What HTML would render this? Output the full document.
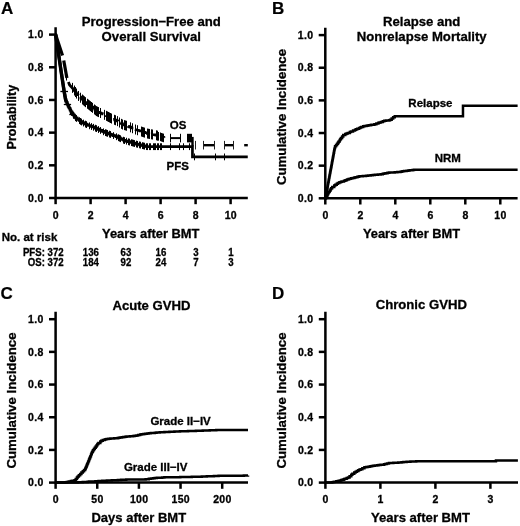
<!DOCTYPE html>
<html><head><meta charset="utf-8"><title>Figure</title>
<style>html,body{margin:0;padding:0;background:#fff}svg{display:block;will-change:transform}text{font-family:"Liberation Sans",sans-serif;font-weight:bold;fill:#000;stroke:#000;stroke-width:0.3px}.tk{font-size:10.2px;letter-spacing:0.3px}.ax{font-size:13.25px}.ti{font-size:13.15px}.pl{font-size:17px;stroke-width:0.2px}.lb{font-size:11.5px}.rk{font-size:10px}</style>
</head><body>
<svg width="520" height="526" viewBox="0 0 520 526">
<rect width="520" height="526" fill="#fff"/>
<path d="M55.60 27.20 V198.00 H247.80" fill="none" stroke="#000" stroke-width="2.5" stroke-linecap="butt" stroke-linejoin="miter"/>
<path d="M49.00 198.00 H55.60" stroke="#000" stroke-width="2.5"/>
<text transform="translate(43.60,201.75) scale(1.03,1)" text-anchor="end" class="tk">0.0</text>
<path d="M49.00 165.32 H55.60" stroke="#000" stroke-width="2.5"/>
<text transform="translate(43.60,169.07) scale(1.03,1)" text-anchor="end" class="tk">0.2</text>
<path d="M49.00 132.64 H55.60" stroke="#000" stroke-width="2.5"/>
<text transform="translate(43.60,136.39) scale(1.03,1)" text-anchor="end" class="tk">0.4</text>
<path d="M49.00 99.96 H55.60" stroke="#000" stroke-width="2.5"/>
<text transform="translate(43.60,103.71) scale(1.03,1)" text-anchor="end" class="tk">0.6</text>
<path d="M49.00 67.28 H55.60" stroke="#000" stroke-width="2.5"/>
<text transform="translate(43.60,71.03) scale(1.03,1)" text-anchor="end" class="tk">0.8</text>
<path d="M49.00 34.60 H55.60" stroke="#000" stroke-width="2.5"/>
<text transform="translate(43.60,38.35) scale(1.03,1)" text-anchor="end" class="tk">1.0</text>
<path d="M55.60 198.00 V204.20" stroke="#000" stroke-width="2.5"/>
<text transform="translate(55.80,218.60) scale(1.03,1)" text-anchor="middle" class="tk">0</text>
<path d="M90.60 198.00 V204.20" stroke="#000" stroke-width="2.5"/>
<text transform="translate(90.80,218.60) scale(1.03,1)" text-anchor="middle" class="tk">2</text>
<path d="M125.60 198.00 V204.20" stroke="#000" stroke-width="2.5"/>
<text transform="translate(125.80,218.60) scale(1.03,1)" text-anchor="middle" class="tk">4</text>
<path d="M160.60 198.00 V204.20" stroke="#000" stroke-width="2.5"/>
<text transform="translate(160.80,218.60) scale(1.03,1)" text-anchor="middle" class="tk">6</text>
<path d="M195.60 198.00 V204.20" stroke="#000" stroke-width="2.5"/>
<text transform="translate(195.80,218.60) scale(1.03,1)" text-anchor="middle" class="tk">8</text>
<path d="M230.60 198.00 V204.20" stroke="#000" stroke-width="2.5"/>
<text transform="translate(230.80,218.60) scale(1.03,1)" text-anchor="middle" class="tk">10</text>
<text x="1.0" y="13.8" class="pl">A</text>
<text x="151.3" y="25.6" text-anchor="middle" class="ti">Progression−Free and</text>
<text x="151.3" y="40.8" text-anchor="middle" class="ti">Overall Survival</text>
<text transform="translate(16.3,117.1) rotate(-90)" text-anchor="middle" class="ax" style="font-size:12.5px">Probability</text>
<text x="150.75" y="237.6" text-anchor="middle" class="ax" style="font-size:12.9px">Years after BMT</text>
<text x="1.7" y="241.1" class="rk" style="font-size:11.5px">No. at risk</text>
<text transform="translate(63.6,256.4) scale(0.965,1)" text-anchor="end" class="rk">PFS: 372</text>
<text transform="translate(63.6,265.5) scale(0.965,1)" text-anchor="end" class="rk">OS: 372</text>
<text transform="translate(90.9,256.4) scale(0.965,1)" text-anchor="middle" class="rk">136</text>
<text transform="translate(90.9,265.5) scale(0.965,1)" text-anchor="middle" class="rk">184</text>
<text transform="translate(125.9,256.4) scale(0.965,1)" text-anchor="middle" class="rk">63</text>
<text transform="translate(125.9,265.5) scale(0.965,1)" text-anchor="middle" class="rk">92</text>
<text transform="translate(160.9,256.4) scale(0.965,1)" text-anchor="middle" class="rk">16</text>
<text transform="translate(160.9,265.5) scale(0.965,1)" text-anchor="middle" class="rk">24</text>
<text transform="translate(195.9,256.4) scale(0.965,1)" text-anchor="middle" class="rk">3</text>
<text transform="translate(195.9,265.5) scale(0.965,1)" text-anchor="middle" class="rk">7</text>
<text transform="translate(230.9,256.4) scale(0.965,1)" text-anchor="middle" class="rk">1</text>
<text transform="translate(230.9,265.5) scale(0.965,1)" text-anchor="middle" class="rk">3</text>
<path d="M55.60 34.60 H55.75 V35.60 H55.91 V36.69 H56.12 V38.08 H56.27 V39.10 H56.43 V40.14 H56.59 V41.25 H56.79 V42.55 H56.95 V43.60 H57.12 V44.75 H57.31 V46.03 H57.48 V47.20 H57.70 V48.67 H57.88 V49.83 H58.07 V51.13 H58.25 V52.33 H58.42 V53.43 H58.63 V54.87 H58.84 V56.30 H59.02 V57.47 H59.19 V58.60 H59.38 V59.86 H59.54 V60.92 H59.69 V61.98 H59.86 V63.11 H60.06 V64.41 H60.26 V65.79 H60.42 V66.87 H60.58 V67.88 H60.72 V68.87 H60.92 V70.20 H61.08 V71.25 H61.25 V72.41 H61.41 V73.45 H61.58 V74.62 H61.73 V75.63 H61.95 V77.05 H62.16 V78.51 H62.38 V79.96 H62.58 V81.28 H62.76 V82.50 H62.98 V83.98 H63.19 V85.33 H63.40 V86.77 H63.57 V87.91 H63.76 V89.17 H64.00 V90.77 H64.20 V92.07 H64.43 V93.39 H64.64 V94.58 H64.84 V95.68 H65.10 V97.13 H65.30 V98.24 H65.51 V99.40 H65.93 V100.99 H66.53 V102.37 H67.19 V103.91 H67.66 V105.00 H68.14 V106.07 H68.67 V107.10 H69.26 V108.26 H70.06 V109.84 H70.68 V111.06 H71.28 V112.13 H72.14 V113.38 H72.98 V114.58 H73.93 V115.96 H74.75 V117.14 H75.53 V117.78 H77.01 V118.86 H77.90 V119.52 H79.16 V120.44 H80.31 V121.28 H81.21 V121.91 H82.64 V122.64 H83.48 V123.07 H84.82 V123.75 H85.65 V124.17 H86.78 V124.74 H87.70 V125.14 H88.68 V125.50 H90.33 V126.10 H91.82 V126.64 H92.83 V127.01 H94.40 V127.70 H95.33 V128.11 H96.42 V128.61 H97.96 V129.31 H99.30 V129.91 H100.12 V130.28 H101.79 V131.04 H102.71 V131.46 H103.68 V131.90 H105.14 V132.51 H106.18 V132.89 H107.18 V133.26 H107.97 V133.55 H108.78 V133.85 H110.06 V134.32 H111.01 V134.67 H112.31 V135.15 H113.39 V135.54 H114.54 V135.97 H116.18 V136.58 H117.37 V137.17 H118.64 V137.80 H120.19 V138.58 H121.08 V139.02 H121.95 V139.46 H123.54 V140.25 H125.05 V140.75 H126.01 V141.04 H126.91 V141.30 H128.34 V141.72 H129.96 V142.20 H130.87 V142.47 H132.50 V142.95 H134.07 V143.41 H135.37 V143.79 H136.50 V144.08 H137.32 V144.29 H138.07 V144.49 H139.72 V144.91 H140.67 V145.16 H142.06 V145.52 H143.03 V145.77 H144.54 V146.16 H145.83 V146.49 H146.83 V146.69 H147.72 H149.13 H149.92 H150.86 H152.12 H153.65 H154.96 H155.95 H157.55 H158.47 H159.21 H160.18 H161.33 H162.11 H163.00 H164.07 H165.34 H166.19 H167.26 H168.83 H170.49 H171.84 H173.23 H174.51 H175.36 H176.12 H176.85 H178.45 H179.84 H181.48 H182.23 H183.56 H184.74 H186.16 H187.19 H188.87 H189.66 H190.90 H192.33 H192.45 V156.90 H193.88 H195.28 H196.76 H198.36 H199.41 H200.79 H202.38 H203.93 H205.05 H206.53 H208.08 H209.35 H210.67 H211.76 H213.04 H214.34 H215.14 H216.47 H218.15 H219.71 H221.13 H222.22 H223.65 H224.93 H226.07 H227.59 H228.39 H229.83 H230.58 H231.88 H233.06 H234.00 H235.39 H236.59 H237.90 H239.50 H240.47 H241.20 H242.21 H243.58 H244.50 H245.38 H246.97 H247.75" fill="none" stroke="#000" stroke-width="2.7" stroke-linejoin="miter" />
<path d="M55.60 34.60 L56.17 36.34 L56.75 38.09 L57.32 39.83 L57.90 41.57 L58.47 43.31 L59.05 45.06 L59.62 46.80 L60.20 48.54 L60.77 50.29 L61.35 52.03 L61.92 53.77 L62.50 55.52" fill="none" stroke="#000" stroke-width="3.2" stroke-linejoin="round" />
<path d="M63.76 60.50 L64.02 61.96 L64.28 63.43 L64.54 64.89 L64.81 66.35 L65.07 67.82 L65.33 69.28 L65.59 70.75 L65.86 72.21 L66.12 73.67 L66.38 75.14 L66.64 76.60 L66.91 78.06" fill="none" stroke="#000" stroke-width="3.2" stroke-linejoin="round" />
<path d="M68.38 82.07 L68.91 83.33 L69.45 84.59 L69.99 85.37 L70.53 85.97 L71.07 86.58 L71.61 87.18 L72.15 87.79 L72.69 88.39 L73.23 89.05 L73.77 89.86 L74.31 90.67 L74.85 91.48" fill="none" stroke="#000" stroke-width="2.8" stroke-linejoin="round" />
<path d="M55.60 34.60 L56.50 40.65 L57.41 46.69 L58.31 52.74 L59.22 58.79 L60.12 64.84 L61.02 70.88 L61.93 76.93 L62.83 82.98 L63.74 89.03 L64.64 94.56 L65.55 99.60 L66.45 102.19" fill="none" stroke="#000" stroke-width="3.4" stroke-linejoin="round" />
<path d="M74.85 91.48 H75.71 V92.77 H76.42 V93.81 H77.19 V94.83 H78.21 V95.94 H79.35 V96.95 H80.77 V98.22 H81.89 V99.22 H83.09 V100.29 H84.26 V101.34 H85.62 V102.49 H87.22 V103.78 H88.50 V104.81 H89.56 V105.67 H91.06 V106.88 H92.96 V108.42 H94.88 V110.00 H96.64 V111.27 H98.68 V112.29 H99.91 V112.85 H101.01 V113.35 H102.45 V114.01 H103.68 V114.57 H104.84 V115.14 H106.24 V115.87 H107.89 V116.76 H109.38 V117.56 H110.66 V118.25 H112.57 V119.14 H114.64 V119.98 H116.09 V120.57 H117.08 V121.06 H118.01 V121.67 H119.96 V123.01 H120.91 V123.65 H122.66 V124.64 H124.25 V125.14 H125.52 V125.53 H127.37 V126.15 H128.29 V126.51 H129.35 V126.97 H130.80 V127.60 H131.73 V128.01 H133.62 V128.83 H134.81 V129.34 H135.88 V129.75 H136.83 V130.09 H138.49 V130.65 H139.92 V131.13 H141.58 V131.69 H143.27 V132.26 H145.14 V132.89 H147.19 V133.53 H148.91 V133.88 H150.05 V134.10 H151.52 V134.38 H152.63 V134.60 H153.54 V134.77 H155.01 V135.05 H156.77 V135.49 H157.88 V135.83 H159.11 V136.22 H160.42 V136.64 H162.16 V137.19 H163.69 V137.67 H164.10 V137.80" fill="none" stroke="#000" stroke-width="2.4" stroke-linejoin="miter" stroke-dasharray="7 4"/>
<path d="M170.80 138.10H180.40" stroke="#000" stroke-width="2.0"/>
<path d="M187.50 138.10H192.50" stroke="#000" stroke-width="2.0"/>
<path d="M203.80 145.19H214.70" stroke="#000" stroke-width="2.4"/>
<path d="M224.80 145.19H233.40" stroke="#000" stroke-width="2.4"/>
<path d="M244.20 145.19H247.80" stroke="#000" stroke-width="2.4"/>
<path d="M192.5 136.90V146.39" stroke="#000" stroke-width="2.4"/>
<path d="M66.50 70.53V80.53 M72.50 82.87V92.87 M74.50 85.54V95.54 M75.50 87.04V97.04 M76.50 88.55V98.55 M78.50 90.95V100.95 M80.50 92.73V102.73 M82.50 94.52V104.52 M83.50 95.41V105.41 M84.50 96.31V106.31 M85.50 97.17V107.17 M87.50 98.79V108.79 M88.50 99.59V109.59 M89.50 100.40V110.40 M90.50 101.20V111.20 M91.50 102.01V112.01 M92.50 102.82V112.82 M94.50 104.46V114.46 M95.50 105.29V115.29 M96.50 106.11V116.11 M97.50 106.62V116.62 M98.50 107.08V117.08 M100.50 107.99V117.99 M104.50 109.82V119.82 M106.50 110.87V120.87 M107.50 111.40V121.40 M108.50 111.94V121.94 M109.50 112.48V122.48 M110.50 113.01V123.01 M111.50 113.55V123.55 M114.50 114.81V124.81 M115.50 115.22V125.22 M117.50 116.13V126.13 M119.50 117.50V127.50 M121.50 118.87V128.87 M122.50 119.51V129.51 M124.50 120.13V130.13 M125.50 120.44V130.44 M126.50 120.75V130.75 M130.50 122.35V132.35 M132.50 123.22V133.22 M135.50 124.52V134.52 M137.50 125.22V135.22 M141.50 126.57V136.57 M142.50 126.91V136.91 M143.50 127.25V137.25 M144.50 127.58V137.58 M147.50 128.56V138.56 M148.50 128.75V138.75 M149.50 128.94V138.94 M151.50 129.33V139.33 M152.50 129.52V139.52 M156.50 130.31V140.31 M157.50 130.63V140.63" stroke="#000" stroke-width="1.0" fill="none"/>
<path d="M157.50 131.56V140.16 M158.50 132.03V140.63 M160.50 132.51V141.11 M161.50 132.98V141.58 M162.50 133.30V141.90 M163.50 133.61V142.21 M170.50 133.80V142.40 M180.50 133.80V142.40 M187.50 133.80V142.40 M188.50 133.80V142.40 M189.50 133.80V142.40 M190.50 133.80V142.40 M191.50 133.80V142.40 M192.50 140.99V149.59" stroke="#000" stroke-width="1.0" fill="none"/>
<path d="M195.50 140.89V149.49 M203.50 140.89V149.49 M214.50 140.89V149.49 M224.50 140.89V149.49 M233.50 140.89V149.49" stroke="#222" stroke-width="1.0" fill="none"/>
<path d="M60.40 91.50H68.00" stroke="#000" stroke-width="1.3"/>
<path d="M63.80 104.50H71.10" stroke="#000" stroke-width="1.3"/>
<path d="M69.30 114.50H73.60" stroke="#000" stroke-width="1.3"/>
<path d="M70.50 107.25V114.05 M71.50 109.02V115.82 M73.50 111.90V118.70 M75.50 114.34V121.14 M76.50 115.07V121.87 M79.50 117.27V124.07 M80.50 118.00V124.80 M81.50 118.65V125.45 M83.50 119.66V126.46 M85.50 120.68V127.48 M86.50 121.19V127.99 M89.50 122.39V129.19 M91.50 123.11V129.91 M93.50 123.88V130.68 M95.50 124.78V131.58 M96.50 125.23V132.03 M98.50 126.14V132.94 M100.50 127.05V133.85 M103.50 128.40V135.20 M105.50 129.24V136.04 M106.50 129.60V136.40 M107.50 129.97V136.77 M109.50 130.71V137.51 M110.50 131.07V137.87 M113.50 132.18V138.98 M116.50 133.32V140.12 M118.50 134.32V141.12 M119.50 134.82V141.62 M120.50 135.32V142.12 M123.50 136.81V143.61 M124.50 137.19V143.99 M126.50 137.77V144.57 M128.50 138.36V145.16 M129.50 138.66V145.46 M131.50 139.25V146.05 M132.50 139.54V146.34 M133.50 139.83V146.63 M134.50 140.13V146.93 M136.50 140.68V147.48 M137.50 140.94V147.74 M139.50 141.45V148.25 M140.50 141.71V148.51 M142.50 142.23V149.03 M143.50 142.49V149.29 M144.50 142.74V149.54 M146.50 143.26V150.06 M147.50 143.29V150.09 M149.50 143.29V150.09 M150.50 143.29V150.09" stroke="#000" stroke-width="1.0" fill="none"/>
<path d="M153.50 143.29V150.09 M154.50 143.29V150.09 M155.50 143.29V150.09 M157.50 143.29V150.09 M158.50 143.29V150.09 M160.50 143.29V150.09 M161.50 143.29V150.09 M170.50 143.29V150.09 M179.50 143.29V150.09 M183.50 143.29V150.09 M189.50 143.29V150.09" stroke="#000" stroke-width="1.0" fill="none"/>
<path d="M194.50 153.50V160.30 M215.50 153.50V160.30 M224.50 153.50V160.30" stroke="#000" stroke-width="1.0" fill="none"/>
<text x="178" y="129" text-anchor="middle" class="lb">OS</text>
<text x="177.7" y="169.9" text-anchor="middle" class="lb">PFS</text>
<path d="M325.30 27.70 V198.30 H517.60" fill="none" stroke="#000" stroke-width="2.5" stroke-linecap="butt" stroke-linejoin="miter"/>
<path d="M318.70 198.30 H325.30" stroke="#000" stroke-width="2.5"/>
<text transform="translate(313.30,202.05) scale(1.03,1)" text-anchor="end" class="tk">0.0</text>
<path d="M318.70 165.66 H325.30" stroke="#000" stroke-width="2.5"/>
<text transform="translate(313.30,169.41) scale(1.03,1)" text-anchor="end" class="tk">0.2</text>
<path d="M318.70 133.02 H325.30" stroke="#000" stroke-width="2.5"/>
<text transform="translate(313.30,136.77) scale(1.03,1)" text-anchor="end" class="tk">0.4</text>
<path d="M318.70 100.38 H325.30" stroke="#000" stroke-width="2.5"/>
<text transform="translate(313.30,104.13) scale(1.03,1)" text-anchor="end" class="tk">0.6</text>
<path d="M318.70 67.74 H325.30" stroke="#000" stroke-width="2.5"/>
<text transform="translate(313.30,71.49) scale(1.03,1)" text-anchor="end" class="tk">0.8</text>
<path d="M318.70 35.10 H325.30" stroke="#000" stroke-width="2.5"/>
<text transform="translate(313.30,38.85) scale(1.03,1)" text-anchor="end" class="tk">1.0</text>
<path d="M325.30 198.30 V204.50" stroke="#000" stroke-width="2.5"/>
<text transform="translate(325.50,218.90) scale(1.03,1)" text-anchor="middle" class="tk">0</text>
<path d="M360.30 198.30 V204.50" stroke="#000" stroke-width="2.5"/>
<text transform="translate(360.50,218.90) scale(1.03,1)" text-anchor="middle" class="tk">2</text>
<path d="M395.30 198.30 V204.50" stroke="#000" stroke-width="2.5"/>
<text transform="translate(395.50,218.90) scale(1.03,1)" text-anchor="middle" class="tk">4</text>
<path d="M430.30 198.30 V204.50" stroke="#000" stroke-width="2.5"/>
<text transform="translate(430.50,218.90) scale(1.03,1)" text-anchor="middle" class="tk">6</text>
<path d="M465.30 198.30 V204.50" stroke="#000" stroke-width="2.5"/>
<text transform="translate(465.50,218.90) scale(1.03,1)" text-anchor="middle" class="tk">8</text>
<path d="M500.30 198.30 V204.50" stroke="#000" stroke-width="2.5"/>
<text transform="translate(500.50,218.90) scale(1.03,1)" text-anchor="middle" class="tk">10</text>
<text x="271.9" y="13.8" class="pl">B</text>
<text x="421.7" y="25.6" text-anchor="middle" class="ti">Relapse and</text>
<text x="421.7" y="40.8" text-anchor="middle" class="ti">Nonrelapse Mortality</text>
<text transform="translate(286.2,117.0) rotate(-90)" text-anchor="middle" class="ax">Cumulative Incidence</text>
<text x="411.5" y="237.7" text-anchor="middle" class="ax" style="font-size:12.85px">Years after BMT</text>
<path d="M325.30 198.30 H325.54 V197.00 H325.75 V195.91 H325.94 V194.87 H326.16 V193.66 H326.37 V192.53 H326.57 V191.45 H326.76 V190.48 H327.02 V189.05 H327.28 V187.65 H327.55 V186.23 H327.74 V185.21 H327.96 V183.99 H328.15 V183.00 H328.39 V181.69 H328.65 V180.31 H328.84 V179.28 H329.11 V177.80 H329.36 V176.49 H329.57 V175.34 H329.83 V173.94 H330.06 V172.72 H330.30 V171.44 H330.50 V170.36 H330.74 V169.05 H331.00 V167.68 H331.22 V166.48 H331.50 V164.99 H331.78 V163.45 H332.00 V162.30 H332.22 V161.11 H332.45 V159.88 H332.67 V158.66 H332.87 V157.61 H333.13 V156.21 H333.38 V154.89 H333.58 V153.82 H333.76 V152.83 H334.05 V151.26 H334.23 V150.29 H334.43 V149.22 H334.67 V147.95 H335.08 V146.36 H336.07 V145.02 H337.07 V143.67 H337.99 V142.43 H338.69 V141.44 H339.67 V140.02 H340.36 V139.01 H341.07 V137.99 H342.14 V136.44 H343.27 V134.93 H345.25 V134.05 H346.53 V133.49 H347.81 V132.93 H349.81 V132.04 H350.97 V131.53 H353.07 V130.61 H355.04 V129.74 H356.10 V129.27 H357.29 V128.74 H359.06 V127.96 H360.27 V127.42 H361.29 V126.97 H363.18 V126.15 H364.59 V125.93 H366.44 V125.65 H367.49 V125.48 H368.87 V125.27 H370.59 V125.00 H371.52 V124.86 H372.66 V124.68 H374.38 V124.26 H376.37 V123.54 H378.43 V122.81 H379.47 V122.43 H380.98 V121.90 H382.79 V121.25 H384.29 V120.76 H386.01 V120.60 H387.14 V120.50 H388.12 V120.40 H389.15 V120.31 H390.10 V119.68 H391.66 V118.40 H393.18 V117.15 H394.76 V116.13 H395.84 H396.96 H398.10 H400.01 H402.10 H404.11 H405.12 H406.10 H408.14 H409.60 H411.41 H412.70 H414.17 H415.68 H417.10 H418.72 H419.64 H421.38 H423.29 H424.41 H425.85 H427.64 H429.03 H430.16 H431.26 H432.77 H433.69 H435.66 H437.53 H439.27 H441.21 H442.86 H444.25 H445.87 H447.37 H449.45 H451.32 H452.53 H454.52 H456.31 H458.15 H460.02 H461.41 H462.60 H462.85 H462.98 V105.77 H464.80 H466.62 H468.01 H469.78 H470.76 H472.07 H473.53 H474.45 H475.77 H477.44 H479.09 H480.27 H482.30 H484.00 H485.31 H487.00 H488.58 H490.12 H491.49 H493.59 H495.26 H497.00 H498.81 H500.89 H501.82 H503.46 H505.24 H506.45 H507.83 H508.79 H509.93 H511.28 H512.30 H513.50 H515.48 H517.04 H517.62" fill="none" stroke="#000" stroke-width="2.5" stroke-linejoin="miter" />
<path d="M325.30 198.30 H326.04 V196.92 H326.61 V195.85 H327.37 V194.45 H327.96 V193.33 H328.64 V192.07 H329.63 V190.54 H330.60 V189.11 H331.25 V188.14 H332.21 V187.05 H334.22 V185.59 H335.31 V184.80 H336.78 V183.74 H337.88 V182.94 H339.38 V182.32 H341.01 V181.73 H341.98 V181.38 H344.02 V180.64 H345.42 V180.13 H346.95 V179.57 H348.57 V179.00 H349.91 V178.67 H351.15 V178.36 H352.84 V177.94 H354.41 V177.55 H355.65 V177.24 H357.41 V176.80 H358.67 V176.49 H359.58 V176.37 H360.78 V176.26 H361.73 V176.17 H362.82 V176.07 H364.62 V175.90 H365.99 V175.77 H367.97 V175.59 H369.76 V175.41 H370.73 V175.31 H372.81 V175.08 H374.84 V174.86 H375.83 V174.75 H377.82 V174.54 H379.24 V174.38 H380.71 V174.15 H382.78 V173.75 H383.97 V173.52 H385.50 V173.22 H387.52 V172.83 H389.29 V172.62 H390.75 V172.52 H392.83 V172.39 H394.71 V172.27 H396.33 V172.17 H397.37 V172.10 H399.02 V171.96 H400.46 V171.70 H401.61 V171.50 H402.57 V171.33 H404.10 V171.07 H405.15 V170.88 H406.58 V170.63 H408.29 V170.43 H409.73 V170.28 H410.95 V170.15 H412.55 V169.98 H413.95 V169.84 H415.78 V169.74 H417.32 H419.42 H421.46 H423.24 H424.43 H425.46 H427.44 H429.28 H430.93 H432.26 H433.48 H435.21 H436.78 H438.39 H440.05 H441.86 H442.99 H444.18 H446.26 H448.26 H450.21 H451.16 H452.13 H453.36 H454.77 H456.42 H457.44 H458.99 H459.98 H460.98 H462.69 H464.25 H465.91 H467.26 H468.73 H469.88 H471.20 H472.99 H474.90 H475.89 H476.93 H478.80 H480.45 H482.27 H483.43 H484.84 H486.05 H487.92 H489.26 H490.95 H493.03 H494.32 H495.88 H497.68 H499.68 H501.10 H502.44 H503.45 H505.40 H506.40 H507.40 H508.98 H510.46 H512.18 H513.44 H515.27 H516.26 H517.42 H517.62" fill="none" stroke="#000" stroke-width="2.5" stroke-linejoin="miter" />
<text x="430.4" y="106.6" text-anchor="middle" class="lb">Relapse</text>
<text x="447.8" y="161.8" text-anchor="middle" class="lb">NRM</text>
<path d="M55.60 311.80 V482.60 H248.00" fill="none" stroke="#000" stroke-width="2.5" stroke-linecap="butt" stroke-linejoin="miter"/>
<path d="M49.00 482.60 H55.60" stroke="#000" stroke-width="2.5"/>
<text transform="translate(43.60,486.35) scale(1.03,1)" text-anchor="end" class="tk">0.0</text>
<path d="M49.00 449.92 H55.60" stroke="#000" stroke-width="2.5"/>
<text transform="translate(43.60,453.67) scale(1.03,1)" text-anchor="end" class="tk">0.2</text>
<path d="M49.00 417.24 H55.60" stroke="#000" stroke-width="2.5"/>
<text transform="translate(43.60,420.99) scale(1.03,1)" text-anchor="end" class="tk">0.4</text>
<path d="M49.00 384.56 H55.60" stroke="#000" stroke-width="2.5"/>
<text transform="translate(43.60,388.31) scale(1.03,1)" text-anchor="end" class="tk">0.6</text>
<path d="M49.00 351.88 H55.60" stroke="#000" stroke-width="2.5"/>
<text transform="translate(43.60,355.63) scale(1.03,1)" text-anchor="end" class="tk">0.8</text>
<path d="M49.00 319.20 H55.60" stroke="#000" stroke-width="2.5"/>
<text transform="translate(43.60,322.95) scale(1.03,1)" text-anchor="end" class="tk">1.0</text>
<path d="M55.60 482.60 V488.80" stroke="#000" stroke-width="2.5"/>
<text transform="translate(55.80,503.20) scale(1.03,1)" text-anchor="middle" class="tk">0</text>
<path d="M97.25 482.60 V488.80" stroke="#000" stroke-width="2.5"/>
<text transform="translate(97.45,503.20) scale(1.03,1)" text-anchor="middle" class="tk">50</text>
<path d="M138.90 482.60 V488.80" stroke="#000" stroke-width="2.5"/>
<text transform="translate(139.10,503.20) scale(1.03,1)" text-anchor="middle" class="tk">100</text>
<path d="M180.55 482.60 V488.80" stroke="#000" stroke-width="2.5"/>
<text transform="translate(180.75,503.20) scale(1.03,1)" text-anchor="middle" class="tk">150</text>
<path d="M222.20 482.60 V488.80" stroke="#000" stroke-width="2.5"/>
<text transform="translate(222.40,503.20) scale(1.03,1)" text-anchor="middle" class="tk">200</text>
<text x="0.4" y="298.8" class="pl">C</text>
<text x="151.5" y="309.5" text-anchor="middle" class="ti">Acute GVHD</text>
<text transform="translate(16.3,400.5) rotate(-90)" text-anchor="middle" class="ax">Cumulative Incidence</text>
<text x="138.8" y="521.5" text-anchor="middle" class="ax" style="font-size:13px">Days after BMT</text>
<path d="M55.60 482.60 H56.60 H57.86 H59.63 H61.37 H62.60 H63.68 H65.01 V482.37 H66.78 V481.97 H68.12 V481.66 H69.16 V481.42 H70.91 V481.01 H72.49 V480.64 H74.49 V480.17 H75.71 V478.88 H76.91 V477.52 H77.76 V476.55 H78.88 V475.28 H80.15 V473.88 H81.43 V472.60 H82.81 V471.23 H84.02 V470.02 H85.21 V468.79 H85.64 V467.77 H86.12 V466.63 H86.60 V465.48 H87.08 V464.34 H87.57 V463.17 H88.07 V462.00 H88.47 V461.01 H89.04 V459.60 H89.44 V458.59 H90.00 V457.20 H90.41 V456.17 H90.98 V454.75 H91.38 V453.75 H91.77 V452.77 H92.19 V451.72 H92.94 V450.25 H93.86 V448.98 H94.77 V447.72 H95.71 V446.43 H96.65 V445.13 H97.40 V444.10 H98.40 V443.00 H100.27 V441.54 H101.25 V440.77 H102.80 V439.95 H104.65 V439.53 H105.65 V439.30 H106.65 V439.07 H108.43 V438.66 H110.41 V438.53 H111.41 V438.48 H113.07 V438.38 H114.15 V438.32 H115.94 V438.21 H117.62 V438.02 H118.81 V437.80 H119.98 V437.59 H121.80 V437.25 H123.32 V436.97 H125.14 V436.64 H126.51 V436.51 H127.82 V436.43 H129.88 V436.29 H131.59 V436.18 H133.08 V436.08 H134.63 V435.86 H136.39 V435.45 H138.14 V435.03 H140.14 V434.56 H141.53 V434.24 H143.42 V433.93 H145.12 V433.74 H147.05 V433.52 H148.91 V433.31 H150.81 V433.09 H152.78 V432.89 H154.83 V432.67 H156.50 V432.55 H158.03 V432.46 H159.78 V432.37 H161.64 V432.27 H163.05 V432.19 H164.45 V432.11 H165.53 V432.05 H167.32 V431.95 H169.41 V431.84 H170.76 V431.76 H171.86 V431.70 H173.00 V431.64 H174.41 V431.56 H175.66 V431.50 H177.73 V431.42 H178.70 V431.39 H179.97 V431.35 H181.01 V431.32 H182.68 V431.27 H184.51 V431.21 H185.63 V431.18 H186.61 V431.15 H188.06 V431.10 H189.66 V431.06 H191.65 V431.00 H192.59 V430.97 H193.62 V430.94 H194.74 V430.90 H195.90 V430.87 H197.09 V430.83 H198.85 V430.77 H200.46 V430.71 H201.63 V430.66 H202.75 V430.62 H203.99 V430.57 H205.10 V430.53 H206.90 V430.45 H208.18 V430.40 H209.74 V430.34 H211.62 V430.27 H213.09 V430.21 H214.31 V430.16 H216.27 V430.09 H218.27 V430.01 H219.58 V429.99 H221.13 H223.18 H224.66 H225.83 H226.79 H228.82 H230.69 H232.05 H233.58 H235.10 H236.33 H238.42 H240.11 H241.29 H242.20 H243.67 H245.02 H246.87 H248.02" fill="none" stroke="#000" stroke-width="2.5" stroke-linejoin="miter" />
<path d="M55.60 482.60 H58.31 H60.13 H61.94 H64.08 H66.10 H69.34 H71.87 H74.65 V482.46 H78.13 V482.25 H80.17 V482.13 H82.74 V481.98 H84.54 V481.88 H87.58 V481.70 H89.08 V481.61 H92.22 V481.43 H95.42 V481.24 H98.56 V481.06 H100.23 V480.96 H102.26 V480.84 H105.20 V480.67 H106.89 V480.57 H109.35 V480.43 H111.79 V480.31 H115.20 V480.14 H117.87 V480.01 H121.09 V479.84 H123.20 V479.74 H126.27 V479.58 H128.61 V479.47 H131.94 V479.41 H133.62 H136.78 H138.69 H141.28 H143.83 H145.65 V479.29 H148.81 V478.86 H150.93 V478.57 H153.05 V478.28 H154.71 V478.06 H156.82 V477.86 H159.25 V477.70 H162.18 V477.51 H164.40 V477.36 H167.28 V477.28 H168.99 V477.26 H171.28 V477.25 H173.70 V477.23 H177.13 V477.19 H180.29 V477.12 H183.10 V477.06 H184.63 V477.02 H186.88 V476.97 H189.80 V476.90 H191.78 V476.86 H194.40 V476.80 H196.82 V476.75 H198.34 V476.70 H201.82 V476.55 H204.92 V476.42 H206.84 V476.34 H209.57 V476.22 H211.65 V476.13 H213.90 V476.03 H216.48 V475.92 H218.58 V475.83 H220.75 V475.80 H223.04 V475.78 H225.87 V475.76 H227.88 V475.74 H229.78 V475.73 H232.75 V475.70 H234.90 V475.68 H238.29 V475.66 H240.92 V475.63 H243.87 V475.61 H246.03 V475.59 H248.02 V475.57" fill="none" stroke="#000" stroke-width="2.5" stroke-linejoin="miter" />
<text x="180.6" y="424.7" text-anchor="middle" class="lb">Grade II−IV</text>
<text x="155.7" y="470.7" text-anchor="middle" class="lb">Grade III−IV</text>
<path d="M325.40 311.80 V482.60 H518.00" fill="none" stroke="#000" stroke-width="2.5" stroke-linecap="butt" stroke-linejoin="miter"/>
<path d="M318.80 482.60 H325.40" stroke="#000" stroke-width="2.5"/>
<text transform="translate(313.40,486.35) scale(1.03,1)" text-anchor="end" class="tk">0.0</text>
<path d="M318.80 449.92 H325.40" stroke="#000" stroke-width="2.5"/>
<text transform="translate(313.40,453.67) scale(1.03,1)" text-anchor="end" class="tk">0.2</text>
<path d="M318.80 417.24 H325.40" stroke="#000" stroke-width="2.5"/>
<text transform="translate(313.40,420.99) scale(1.03,1)" text-anchor="end" class="tk">0.4</text>
<path d="M318.80 384.56 H325.40" stroke="#000" stroke-width="2.5"/>
<text transform="translate(313.40,388.31) scale(1.03,1)" text-anchor="end" class="tk">0.6</text>
<path d="M318.80 351.88 H325.40" stroke="#000" stroke-width="2.5"/>
<text transform="translate(313.40,355.63) scale(1.03,1)" text-anchor="end" class="tk">0.8</text>
<path d="M318.80 319.20 H325.40" stroke="#000" stroke-width="2.5"/>
<text transform="translate(313.40,322.95) scale(1.03,1)" text-anchor="end" class="tk">1.0</text>
<path d="M325.40 482.60 V488.80" stroke="#000" stroke-width="2.5"/>
<text transform="translate(325.60,503.20) scale(1.03,1)" text-anchor="middle" class="tk">0</text>
<path d="M380.40 482.60 V488.80" stroke="#000" stroke-width="2.5"/>
<text transform="translate(380.60,503.20) scale(1.03,1)" text-anchor="middle" class="tk">1</text>
<path d="M435.40 482.60 V488.80" stroke="#000" stroke-width="2.5"/>
<text transform="translate(435.60,503.20) scale(1.03,1)" text-anchor="middle" class="tk">2</text>
<path d="M490.40 482.60 V488.80" stroke="#000" stroke-width="2.5"/>
<text transform="translate(490.60,503.20) scale(1.03,1)" text-anchor="middle" class="tk">3</text>
<text x="271.9" y="298.6" class="pl">D</text>
<text x="421.3" y="309.3" text-anchor="middle" class="ti">Chronic GVHD</text>
<text transform="translate(286.2,400.5) rotate(-90)" text-anchor="middle" class="ax">Cumulative Incidence</text>
<text x="420.5" y="521.5" text-anchor="middle" class="ax" style="font-size:13.1px">Years after BMT</text>
<path d="M325.40 482.60 H326.41 H327.48 H328.49 H330.21 V482.52 H331.96 V482.16 H333.07 V481.93 H334.45 V481.65 H336.36 V481.26 H337.97 V480.93 H338.98 V480.72 H340.15 V480.48 H341.24 V480.08 H342.29 V479.67 H343.68 V479.14 H344.66 V478.76 H346.67 V477.99 H348.08 V477.45 H349.59 V476.25 H351.27 V474.67 H352.36 V473.63 H354.25 V472.43 H355.61 V471.72 H356.91 V471.05 H358.30 V470.33 H359.22 V469.86 H360.60 V469.19 H362.34 V468.34 H364.42 V467.34 H366.27 V467.00 H367.96 V466.69 H369.59 V466.40 H370.51 V466.23 H371.81 V466.00 H373.12 V465.77 H374.80 V465.52 H375.83 V465.40 H377.18 V465.24 H378.69 V465.07 H380.54 V464.86 H382.43 V464.65 H384.06 V464.25 H385.15 V463.97 H386.97 V463.50 H388.96 V463.06 H390.52 V462.97 H391.84 V462.90 H393.34 V462.82 H394.41 V462.77 H396.17 V462.67 H398.25 V462.56 H399.77 V462.46 H401.53 V462.30 H403.43 V462.11 H404.57 V462.00 H406.60 V461.81 H408.25 V461.67 H409.39 V461.63 H410.39 V461.59 H411.58 V461.54 H413.18 V461.48 H414.91 V461.41 H416.21 V461.36 H418.22 H419.56 H421.01 H422.06 H424.13 H425.19 H427.18 H428.73 H430.30 H431.87 H433.09 H435.08 H437.17 H439.05 H440.68 H441.72 H443.61 H444.86 H446.83 H448.02 H449.61 H451.51 H452.63 H454.19 H455.18 H456.12 H457.24 H459.32 H461.35 H463.04 H464.31 H466.01 H467.80 H469.15 H470.77 H472.63 H473.55 H474.69 H476.15 H477.22 H478.59 H480.17 H481.28 H482.80 H484.02 H485.60 H486.90 H488.57 H489.51 H491.22 H492.29 H494.34 H495.96 V460.54 H497.43 H498.82 H500.47 H502.20 H504.01 H505.81 H507.29 H509.39 H511.29 H513.22 H514.61 H516.03 H517.61 H517.90" fill="none" stroke="#000" stroke-width="2.5" stroke-linejoin="miter" />
</svg></body></html>
